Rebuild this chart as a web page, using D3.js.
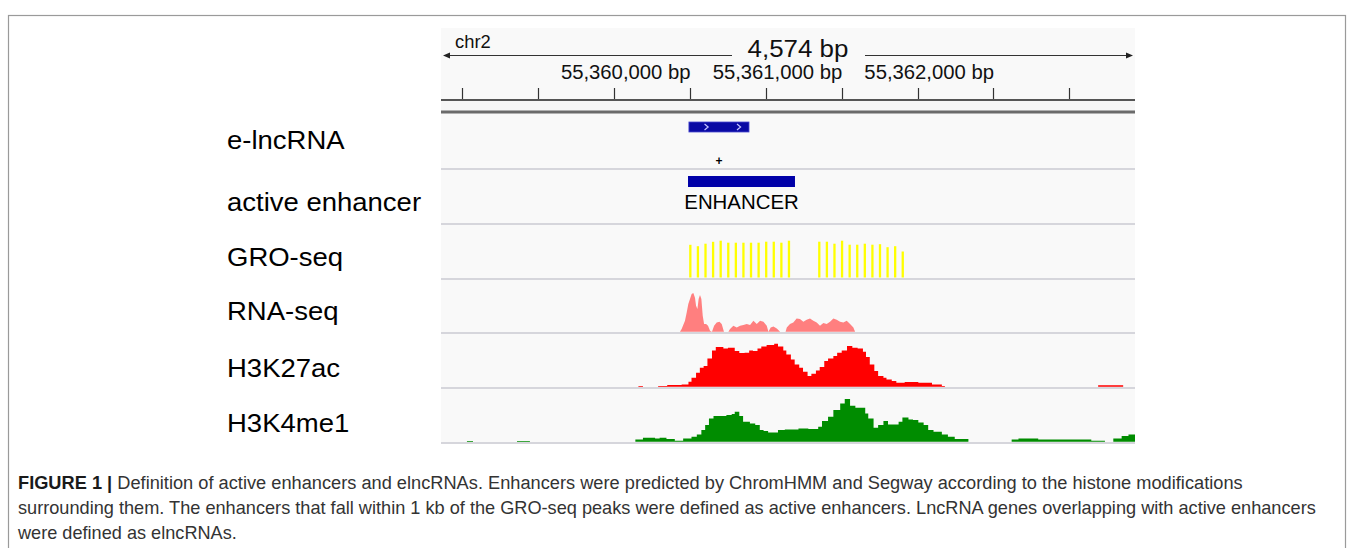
<!DOCTYPE html>
<html><head><meta charset="utf-8">
<script src="https://cdn.jsdelivr.net/npm/d3@7"></script>
<style>body{margin:0;background:#fff}svg{display:block}</style>
</head><body><svg id="c" width="1355" height="548"></svg>
<script>
// ---------------- data ----------------
const chromName = "chr2";
const regionStart = 55358359, regionEnd = 55362933;
const regionLabel = "4,574 bp";
const tickBp = [55358500, 55359000, 55359500, 55360000, 55360500, 55361000, 55361500, 55362000, 55362500];
const tickLabelBp = [55360000, 55361000, 55362000];
const tickLabelText = ["55,360,000 bp", "55,361,000 bp", "55,362,000 bp"];
const trackNames = ["e-lncRNA", "active enhancer", "GRO-seq", "RNA-seq", "H3K27ac", "H3K4me1"];

const lncStart = 55359993, lncEnd = 55360389, lncStrand = "+";
const enhStart = 55359987, enhEnd = 55360692, enhName = "ENHANCER";

const groPos = [55360000, 55360050, 55360100, 55360150, 55360200, 55360250, 55360300, 55360350, 55360400, 55360450, 55360500, 55360550, 55360600, 55360650,
                55360850, 55360900, 55360950, 55361000, 55361050, 55361100, 55361150, 55361200, 55361250, 55361300, 55361350, 55361400];
const groVal = [32.7, 31.3, 33.8, 35.7, 36.8, 34.8, 34.8, 34.8, 34.8, 34.8, 35.8, 35.8, 34.8, 36.8,
                35.8, 35.8, 33.8, 36.8, 32.8, 32.8, 33.8, 32.8, 33.3, 30.3, 31.3, 26];

const rnaPos = [55359934, 55359945, 55359967, 55359978, 55359989, 55360000, 55360011, 55360022, 55360033, 55360040, 55360049, 55360057, 55360066, 55360075, 55360084, 55360093, 55360106, 55360119, 55360132, 55360145, 55360159, 55360176, 55360194, 55360209, 55360224, 55360253, 55360264, 55360286, 55360308, 55360330, 55360352, 55360374, 55360396, 55360418, 55360440, 55360462, 55360484, 55360506, 55360517, 55360532, 55360550, 55360572, 55360594, 55360630, 55360638, 55360659, 55360681, 55360703, 55360725, 55360747, 55360769, 55360791, 55360813, 55360835, 55360857, 55360879, 55360901, 55360923, 55360945, 55360967, 55360989, 55361011, 55361033, 55361055, 55361077, 55361088];
const rnaVal = [0, 2.7, 11, 19, 27.7, 32.7, 37.7, 38.7, 34, 26, 22.7, 32.7, 36.7, 32.7, 16, 7.7, 7.7, 6, 1, 0, 6, 9.3, 10, 7.7, 0, 0, 2.7, 6, 4.3, 6, 6.7, 7.7, 6.7, 11, 7.7, 11, 10, 6, 0, 4.3, 5.3, 3.3, 0, 0, 4.3, 7.7, 9.3, 13.3, 12.7, 10, 12, 13.3, 11, 9.3, 6, 8.7, 7.7, 10, 13.3, 12, 10, 9.3, 11, 7.7, 4.3, 0];

const k27Pos = [55359660, 55359690, 55359790, 55359850, 55359945, 55359990, 55360010, 55360040, 55360065, 55360090, 55360115, 55360145, 55360170, 55360220, 55360250, 55360295, 55360325, 55360360, 55360390, 55360415, 55360445, 55360470, 55360505, 55360555, 55360580, 55360615, 55360635, 55360665, 55360690, 55360720, 55360745, 55360775, 55360800, 55360830, 55360855, 55360885, 55360910, 55360945, 55360970, 55361000, 55361035, 55361070, 55361105, 55361140, 55361160, 55361185, 55361215, 55361240, 55361275, 55361295, 55361330, 55361360, 55361415, 55361505, 55361595, 55361660, 55361680, 55362690, 55362855];
const k27Val = [0.7, 0, 0.7, 1.7, 2.3, 5, 9, 14, 19, 20.7, 28.3, 36.3, 39.7, 38.3, 39, 35.7, 33.7, 34, 36.3, 35.7, 38.3, 40.3, 41.7, 43, 40.3, 36.3, 32.3, 27.3, 22.3, 19, 15, 10.7, 13, 16.3, 19.7, 25.7, 28.3, 30.7, 34, 36.3, 40.7, 39, 38.3, 35, 29.7, 22.3, 15.7, 10.7, 9, 7.3, 5.7, 4, 4.7, 4, 2.3, 0.7, 0, 1.5, 0];

const k4Pos = [55358530, 55358570, 55358860, 55358945, 55359640, 55359690, 55359770, 55359800, 55359845, 55359900, 55359955, 55360010, 55360045, 55360075, 55360100, 55360125, 55360155, 55360240, 55360275, 55360295, 55360325, 55360350, 55360395, 55360430, 55360460, 55360485, 55360515, 55360580, 55360625, 55360715, 55360780, 55360845, 55360870, 55360910, 55360945, 55360990, 55361020, 55361055, 55361090, 55361155, 55361175, 55361210, 55361240, 55361275, 55361305, 55361375, 55361400, 55361440, 55361470, 55361505, 55361540, 55361570, 55361605, 55361660, 55361700, 55361745, 55361835, 55362120, 55362165, 55362295, 55362645, 55362735, 55362790, 55362845, 55362890, 55362933];
const k4Val = [0.7, 0, 0.7, 0, 2.3, 4, 3.3, 4, 2.7, 1, 3.3, 5, 7.3, 11.7, 16.7, 23.3, 25.7, 26.7, 27.7, 30, 25.7, 20, 18.3, 16.7, 11.7, 10.7, 9.3, 11.7, 12.3, 13.3, 12.7, 15, 20.7, 25, 31.7, 38.3, 42.7, 36, 34, 28.3, 23.3, 14, 16.7, 20.7, 17.3, 20, 24.3, 22.3, 21.7, 19.3, 16.7, 11.7, 10, 7.3, 5, 2.7, 0, 2.3, 3.3, 2.3, 1, 0, 3.3, 5.7, 7.3, 7.3];

const captionBold = "FIGURE 1 |";
const captionLines = [
  " Definition of active enhancers and elncRNAs. Enhancers were predicted by ChromHMM and Segway according to the histone modifications",
  "surrounding them. The enhancers that fall within 1 kb of the GRO-seq peaks were defined as active enhancers. LncRNA genes overlapping with active enhancers",
  "were defined as elncRNAs."
];

// ---------------- layout ----------------
const svg = d3.select("#c");
const X0 = 441, X1 = 1135;
const trackTops = [113, 169, 224, 279, 333, 388, 443];
const labelBase = [149, 211, 266, 320, 377, 432];
const FONT = "Arial, 'Liberation Sans', Helvetica, sans-serif";
const STRETCH = 1.09;

const x = d3.scaleLinear().domain([regionStart, regionEnd]).range([X0, X1]);
const h = d3.scaleLinear().domain([0, 50]).range([0, 50]);

// place text with a horizontal stretch around its anchor
function stext(g, tx, ty, str, size, anchor, sx, extra) {
  const t = g.append("text").attr("font-family", FONT).attr("font-size", size)
    .attr("text-anchor", anchor || "start").attr("fill", "#111")
    .attr("transform", `translate(${tx},${ty}) scale(${sx || STRETCH},1)`).text(str);
  if (extra) extra(t);
  return t;
}

// figure frame
svg.append("rect").attr("x", 8.5).attr("y", 15.5).attr("width", 1337).attr("height", 600)
  .attr("fill", "none").attr("stroke", "#9a9a9a").attr("stroke-width", 1.2);

// panel background
svg.append("rect").attr("x", X0).attr("y", 28).attr("width", X1 - X0).attr("height", 443 - 28).attr("fill", "#f9f9f9");

// ---- ruler ----
const ruler = svg.append("g");
stext(ruler, 455, 48, chromName, 17.5, "start", 1.05);
const arrowY = 55.5;
ruler.append("line").attr("x1", X0 + 3).attr("x2", 732).attr("y1", arrowY).attr("y2", arrowY).attr("stroke", "#333");
ruler.append("line").attr("x1", 865).attr("x2", X1 - 3).attr("y1", arrowY).attr("y2", arrowY).attr("stroke", "#333");
ruler.append("path").attr("d", `M${X0 + 2},${arrowY} l7,-3 v6 z`).attr("fill", "#222");
ruler.append("path").attr("d", `M${X1 - 2},${arrowY} l-7,-3 v6 z`).attr("fill", "#222");
stext(ruler, 798, 57, regionLabel, 24, "middle", 1.08);

tickLabelBp.forEach((d, i) => stext(ruler, x(d) + 0.5, 78.5, tickLabelText[i], 19.5, "end", 1.04));
ruler.selectAll("line.tk").data(tickBp).join("line").attr("class", "tk")
  .attr("x1", d => Math.round(x(d)) + 0.5).attr("x2", d => Math.round(x(d)) + 0.5)
  .attr("y1", 88).attr("y2", 99).attr("stroke", "#333").attr("stroke-width", 1.2);
ruler.append("rect").attr("x", X0).attr("y", 99).attr("width", X1 - X0).attr("height", 2).attr("fill", "#555");
ruler.append("rect").attr("x", X0).attr("y", 101).attr("width", X1 - X0).attr("height", 10).attr("fill", "#f6f6f6");
ruler.append("rect").attr("x", X0).attr("y", 110.5).attr("width", X1 - X0).attr("height", 3).attr("fill", "#6b6b6b");

// ---- track separators ----
svg.selectAll("line.sep").data(trackTops.slice(1)).join("line").attr("class", "sep")
  .attr("x1", X0).attr("x2", X1).attr("y1", d => d).attr("y2", d => d)
  .attr("stroke", "#d6d6dc").attr("stroke-width", 2);

// ---- track labels ----
const labG = svg.append("g");
trackNames.forEach((d, i) => stext(labG, 227, labelBase[i], d, 25, "start", 1.1, t => t.attr("fill", "#000")));

// ---- e-lncRNA feature ----
const g1 = svg.append("g");
g1.append("rect").attr("x", x(lncStart)).attr("y", 122).attr("width", x(lncEnd) - x(lncStart)).attr("height", 10)
  .attr("fill", "#0a0aa4").attr("stroke", "#4a4ad0").attr("stroke-width", 0.8);
const chevrons = [lncStart + (lncEnd - lncStart) * 0.29, lncStart + (lncEnd - lncStart) * 0.83];
g1.selectAll("path.chev").data(chevrons).join("path").attr("class", "chev")
  .attr("d", d => `M${x(d) - 1.8},${124} L${x(d) + 1.8},127 L${x(d) - 1.8},${130}`)
  .attr("fill", "none").attr("stroke", "#c4c4ff").attr("stroke-width", 1.2);
g1.append("text").attr("x", x((lncStart + lncEnd) / 2)).attr("y", 165).attr("text-anchor", "middle")
  .attr("font-family", FONT).attr("font-size", 12).attr("font-weight", "bold").attr("fill", "#000").text(lncStrand);

// ---- enhancer feature ----
const g2 = svg.append("g");
g2.append("rect").attr("x", x(enhStart)).attr("y", 176).attr("width", x(enhEnd) - x(enhStart)).attr("height", 11)
  .attr("fill", "#0000a8");
stext(g2, x((enhStart + enhEnd) / 2), 209, enhName, 20, "middle", 1.02, t => t.attr("fill", "#000"));

// ---- GRO-seq bars ----
const groBase = trackTops[3] - 1.5;
svg.append("g").selectAll("rect").data(groPos).join("rect")
  .attr("x", d => x(d) - 0.8).attr("width", 2.3)
  .attr("y", (d, i) => groBase - h(groVal[i])).attr("height", (d, i) => h(groVal[i]))
  .attr("fill", "#ffff00");

// ---- signal tracks ----
function signal(pos, val, base, color, curve) {
  const pts = pos.map((p, i) => [p, val[i]]);
  const area = d3.area().x(d => x(d[0])).y0(base).y1(d => base - h(d[1])).curve(curve);
  svg.append("path").datum(pts).attr("d", area).attr("fill", color);
}
signal(rnaPos, rnaVal, trackTops[4] - 1.2, "#ff7f7f", d3.curveLinear);
signal(k27Pos, k27Val, trackTops[5] - 1.2, "#ff0000", d3.curveStepAfter);
signal(k4Pos, k4Val, trackTops[6] - 1.2, "#008c00", d3.curveStepAfter);

// ---- caption ----
const capBase = [489, 514, 539];
const capTarget = [1225, 1298, 219];
captionLines.forEach((line, i) => {
  const t = svg.append("text").attr("font-family", FONT).attr("font-size", 18).attr("fill", "#333");
  if (i === 0) t.append("tspan").attr("font-weight", "bold").attr("fill", "#1a1a1a").text(captionBold);
  t.append("tspan").text(line);
  const w = t.node().getComputedTextLength();
  t.attr("transform", `translate(18,${capBase[i]}) scale(${capTarget[i] / w},1)`);
});
</script>
</body></html>
